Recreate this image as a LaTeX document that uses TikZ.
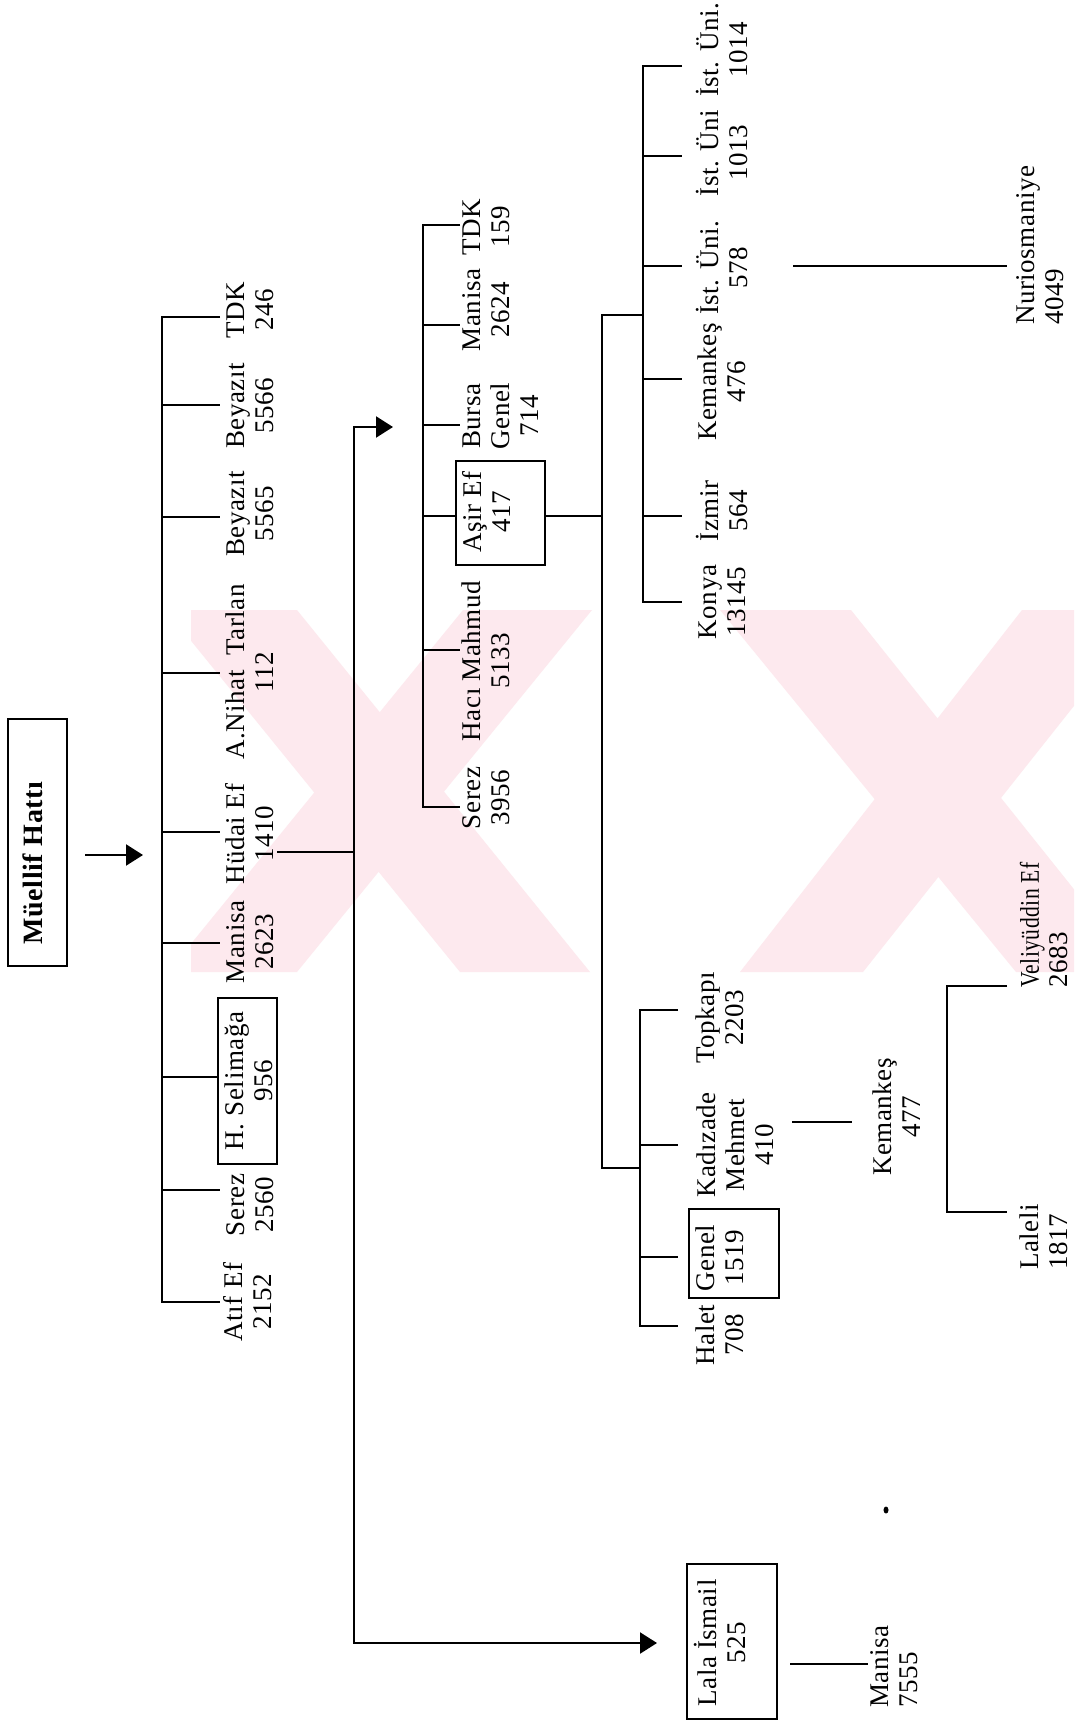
\documentclass[tikz,border=0pt]{standalone}
\usepackage{fontspec}
\setmainfont[LetterSpace=2]{Liberation Serif}
\usetikzlibrary{arrows.meta}
\definecolor{wm}{RGB}{253,233,238}
\begin{document}
\begin{tikzpicture}[x=1pt,y=-1pt,
  ln/.style={line width=2.2pt},
  bx/.style={draw, line width=2pt, inner sep=0pt},
  lbl/.style={rotate=90, align=center, inner sep=0pt, font=\fontsize{27}{29}\selectfont},
  lbll/.style={lbl, align=left},
  tip/.style={-{Triangle[length=17pt,width=21pt]}},
  tips/.style={{Triangle[length=17pt,width=21pt]}-{Triangle[length=17pt,width=21pt]}}]
\useasboundingbox (0,0) rectangle (1074,1723);
\fill[white] (0,0) rectangle (1074,1723);
% watermark
\begin{scope}
\clip (191,610) rectangle (1074,972);
\fill[wm] (166,610) -- (297,610) -- (590,972) -- (460,972) -- cycle;
\fill[wm] (463,610) -- (592,610) -- (297,972) -- (168,972) -- cycle;
\fill[wm] (720,610) -- (851,610) -- (1140,972) -- (1016,972) -- cycle;
\fill[wm] (1022,610) -- (1150,610) -- (863,972) -- (740,972) -- cycle;
\end{scope}
% Muellif
\node[bx, minimum width=59pt, minimum height=247pt] (mbox) at (37,842.5) {};
\node[lbl, font=\fontsize{28}{30}\selectfont\bfseries] (mtxt) at (33,863) {Müellif Hattı};
\coordinate (a1s) at (85,855);
\coordinate (a1e) at (143,855);
\draw[ln, tip] (a1s) -- (a1e);
% level 1
\draw[ln] (220,317) -- (162,317) -- (162,1302) -- (220,1302);
\foreach \y in {405,517,673,832,943,1190} \draw[ln] (162,\y) -- (220,\y);
\node[bx, minimum width=59pt, minimum height=166pt] (selbox) at (247.5,1081) {};
\draw[ln] (162,1077) -- (selbox.west |- 0,1077);
\node[lbl] (tdk1) at (250,310) {TDK\\246};
\node[lbl] (bey2) at (250,406) {Beyazıt\\5566};
\node[lbl] (bey1) at (250,514) {Beyazıt\\5565};
\node[lbl] (nih) at (250,672) {A.Nihat\ \ Tarlan\\112};
\node[lbl] (hud) at (250,834) {Hüdai Ef\\1410};
\node[lbl] (man1) at (250,942) {Manisa\\2623};
\node[lbl] (sel) at (249,1081) {H. Selimağa\\956};
\node[lbl] (ser1) at (250,1205) {Serez\\2560};
\node[lbl] (atif) at (248,1302) {Atıf Ef\\2152};
\draw[ln] (277,852) -- (354,852);
% level 2 trunk
\node[bx, minimum width=90pt, minimum height=155pt] (lbox) at (732,1641.5) {};
\node[lbl] (lala) at (720,1643) {Lala İsmail\\525};
\draw[ln, tips] (393,427) -- (354,427) -- (354,1643) -- (657,1643);
\draw[ln] (790,1664) -- (868,1664);
\node[lbll, anchor=west] (man3) at (894,1708) {Manisa\\7555};
\fill (886,1510) ellipse (2.5pt and 3.5pt);
% level 2 bracket
\draw[ln] (460,225) -- (423,225) -- (423,807) -- (460,807);
\foreach \y in {325,425,650} \draw[ln] (423,\y) -- (460,\y);
\node[bx, minimum width=89pt, minimum height=104pt] (abox) at (500.5,513) {};
\draw[ln] (423,516) -- (abox.west |- 0,516);
\node[lbl] (tdk2) at (486,227) {TDK\\159};
\node[lbl] (man2) at (486,310) {Manisa\\2624};
\node[lbl] (bur) at (501,416) {Bursa\\Genel\\714};
\node[lbl] (asir) at (486,512) {Aşir Ef\\417};
\node[lbl] (haci) at (486,661) {Hacı Mahmud\\5133};
\node[lbl] (ser2) at (486,798) {Serez\\3956};
\draw[ln] (abox.east |- 0,516) -- (602,516);
% level 3
\draw[ln] (643,315) -- (602,315) -- (602,1168) -- (640,1168);
\draw[ln] (682,66) -- (643,66) -- (643,602) -- (682,602);
\foreach \y in {156,266,379,516} \draw[ln] (643,\y) -- (682,\y);
\node[lbl] (ist1) at (722,50) {İst. Üni.\\1014};
\node[lbl] (ist2) at (722,153) {İst. Üni\\1013};
\node[lbl] (ist3) at (722,268) {İst. Üni.\\578};
\node[lbl] (kem1) at (722,382) {Kemankeş\\476};
\node[lbl] (izm) at (722,511) {İzmir\\564};
\node[lbl] (kon) at (722,602) {Konya\\13145};
\draw[ln] (793,266) -- (1007,266);
\node[lbll, anchor=west] (nur) at (1040,325) {Nuriosmaniye\\4049};
% lower group
\draw[ln] (678,1010) -- (640,1010) -- (640,1326) -- (678,1326);
\foreach \y in {1145,1257} \draw[ln] (640,\y) -- (678,\y);
\node[lbl] (top) at (720,1018) {Topkapı\\2203};
\node[lbl] (kad) at (735,1145) {Kadızade\\Mehmet\\410};
\node[bx, minimum width=90pt, minimum height=89pt] (gbox) at (734,1253.5) {};
\node[lbl] (gen) at (720,1258) {Genel\\1519};
\node[lbl] (hal) at (720,1335) {Halet\\708};
\draw[ln] (792,1122) -- (852,1122);
\node[lbl] (kem2) at (897,1117) {Kemankeş\\477};
\draw[ln] (1007,986) -- (947,986) -- (947,1212) -- (1007,1212);
\node[lbll, anchor=west] (vel) at (1044,988) {\scalebox{0.8}[1]{Veliyüddin Ef}\\2683};
\node[lbll, anchor=west] (lal) at (1044,1270) {Laleli\\1817};
\end{tikzpicture}
\end{document}
